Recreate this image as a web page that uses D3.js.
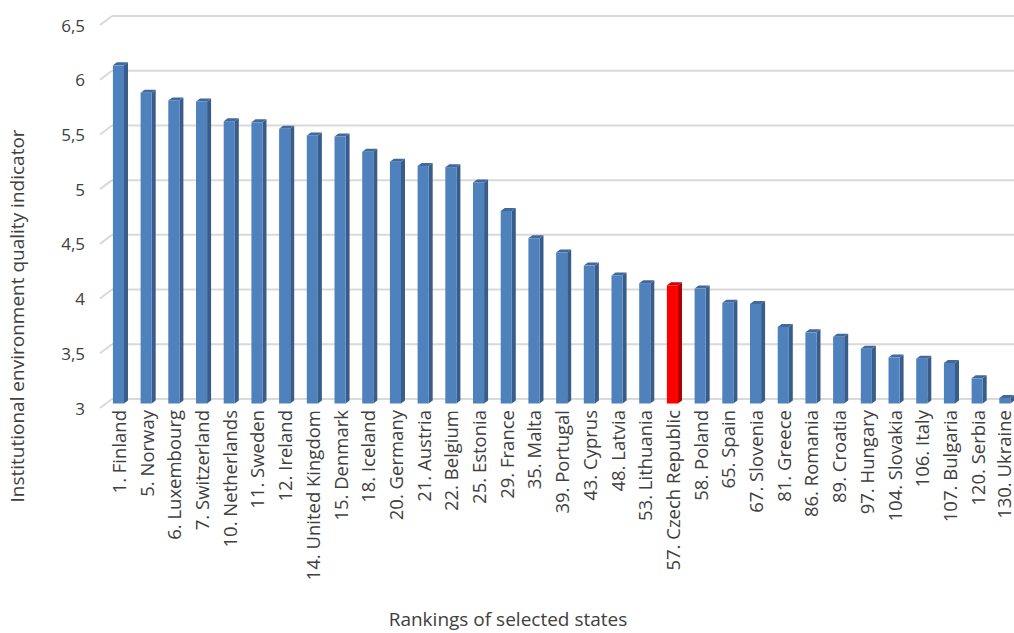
<!DOCTYPE html>
<html><head><meta charset="utf-8">
<script src="https://cdn.jsdelivr.net/npm/d3@7"></script>
<style>body{margin:0;background:#fff;} svg{display:block;font-family:"Open Sans",sans-serif;}</style>
</head><body><svg id="c" width="1014" height="633"></svg>
<script>
const categories = ["1. Finland","5. Norway","6. Luxembourg","7. Switzerland","10. Netherlands","11. Sweden","12. Ireland","14. United Kingdom","15. Denmark","18. Iceland","20. Germany","21. Austria","22. Belgium","25. Estonia","29. France","35. Malta","39. Portugal","43. Cyprus","48. Latvia","53. Lithuania","57. Czech Republic","58. Poland","65. Spain","67. Slovenia","81. Greece","86. Romania","89. Croatia","97. Hungary","104. Slovakia","106. Italy","107. Bulgaria","120. Serbia","130. Ukraine"];
const values = [6.09,5.84,5.77,5.76,5.58,5.57,5.51,5.45,5.44,5.30,5.21,5.17,5.16,5.02,4.76,4.51,4.38,4.26,4.17,4.10,4.08,4.05,3.92,3.91,3.70,3.65,3.61,3.50,3.42,3.41,3.37,3.23,3.05];
const highlight = "57. Czech Republic";
const yTicks = [3,3.5,4,4.5,5,5.5,6,6.5];
const yTitle = "Institutional environment quality indicator";
const xTitle = "Rankings of selected states";

const svg = d3.select("#c");
const depthX = 12, depthY = 9;
const yBack = d3.scaleLinear().domain([3,6.5]).range([399,16]);
const x = d3.scaleBand().domain(categories).range([104.6,1018.7]).paddingInner(0.6).paddingOuter(0.3);
const fmt = d => String(d).replace(".", ",");

svg.append("g").selectAll("line").data(yTicks).join("line")
  .attr("x1",112).attr("x2",1014)
  .attr("y1",d=>yBack(d)).attr("y2",d=>yBack(d))
  .attr("stroke","#d9d9d9").attr("stroke-width",2);
svg.append("g").selectAll("line").data(yTicks).join("line")
  .attr("x1",112-depthX).attr("y1",d=>yBack(d)+depthY)
  .attr("x2",112).attr("y2",d=>yBack(d))
  .attr("stroke","#d9d9d9").attr("stroke-width",2);
svg.append("g").selectAll("text").data(yTicks).join("text")
  .attr("x",85).attr("y",d=>yBack(d)+depthY)
  .attr("text-anchor","end").attr("dominant-baseline","central")
  .attr("font-size",17).attr("fill","#404040").text(fmt);

const yBar = d3.scaleLinear().domain([3,6.5]).range([403.5,20.5]);
const bw = x.bandwidth(), sx = 4, sy = 3;
const g = svg.append("g");
categories.forEach((c,i)=>{
  const v = values[i];
  const x0 = x(c), yt = yBar(v), yb = yBar(3);
  const red = c===highlight;
  const front = red ? "#ff0000" : "#4f81bd";
  const side = red ? "#b00000" : "#385d8a";
  const top = red ? "#d80000" : "#41699b";
  g.append("path").attr("d",`M${x0+bw},${yt}L${x0+bw+sx},${yt-sy}L${x0+bw+sx},${yb-sy}L${x0+bw},${yb}Z`).attr("fill",side);
  g.append("path").attr("d",`M${x0},${yt}L${x0+sx},${yt-sy}L${x0+bw+sx},${yt-sy}L${x0+bw},${yt}Z`).attr("fill",top);
  g.append("rect").attr("x",x0).attr("y",yt).attr("width",bw).attr("height",yb-yt).attr("fill",front);
});

svg.append("g").selectAll("text").data(categories).join("text")
  .attr("transform",d=>`translate(${Math.min(x(d)+bw/2, 1003)},410) rotate(-90)`)
  .attr("text-anchor","end").attr("dominant-baseline","central")
  .attr("font-size",18.5).attr("fill","#404040").text(d=>d);

svg.append("text").attr("x",508).attr("y",619).attr("text-anchor","middle")
  .attr("dominant-baseline","central").attr("font-size",19).attr("fill","#404040").text(xTitle);
svg.append("text").attr("transform","translate(17,316) rotate(-90)").attr("text-anchor","middle")
  .attr("dominant-baseline","central").attr("font-size",19).attr("fill","#404040").text(yTitle);
</script></body></html>
